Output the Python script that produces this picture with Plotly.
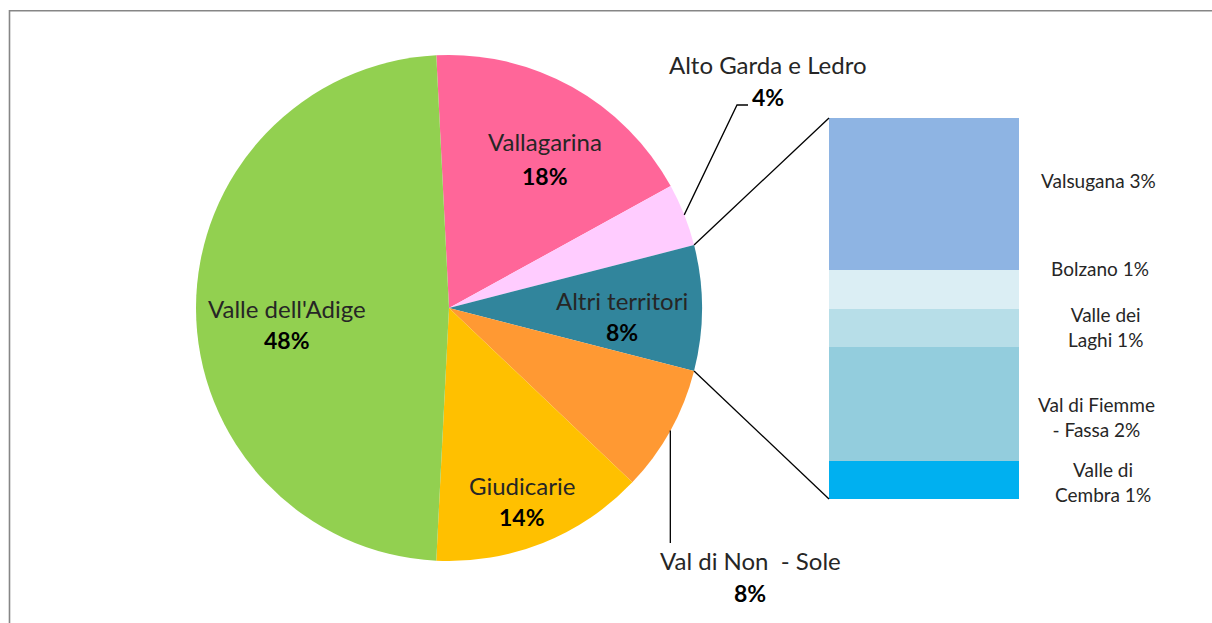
import math
import plotly.graph_objects as go

W, H = 1212, 623

# ---- data ----
pie_labels = ["Vallagarina", "Alto Garda e Ledro", "Altri territori",
              "Val di Non  - Sole", "Giudicarie", "Valle dell'Adige"]
pie_values = [17.8, 4.0, 8.0, 8.1, 13.7, 48.4]
pie_colors = ["#FF6699", "#FFCCFF", "#31859C", "#FF9933", "#FFC000", "#92D050"]

bar_labels = ["Valle di<br>Cembra", "Val di Fiemme<br>- Fassa", "Valle dei<br>Laghi",
              "Bolzano", "Valsugana"]
bar_values = [0.8, 2.4, 0.8, 0.8, 3.2]
bar_colors = ["#00B0F0", "#93CDDD", "#B7DEE8", "#DBEEF4", "#8EB4E3"]

FONT = "Lato"
TXT = "#262626"

# ---- layout geometry (pixels) ----
CX, CY, R = 449, 308, 253
BAR_X0, BAR_X1, BAR_Y0, BAR_Y1 = 829, 1019, 118, 499


def px(x):
    return x / W


def py(y):
    return 1 - y / H


total = sum(pie_values)
other_idx = 2
# pie-of-bar: "other" slice centred at 3 o'clock
before = sum(pie_values[:other_idx]) + pie_values[other_idx] / 2
rotation = 90 - before / total * 360


def edge(angle_deg, r=R):
    a = math.radians(angle_deg)
    return CX + r * math.sin(a), CY - r * math.cos(a)


starts = []
acc = rotation
for v in pie_values:
    starts.append(acc)
    acc += v / total * 360

fig = go.Figure()

fig.add_trace(go.Pie(
    labels=pie_labels, values=pie_values, sort=False, direction="clockwise",
    rotation=rotation, marker=dict(colors=pie_colors, line=dict(width=0)),
    textinfo="none", hoverinfo="skip", showlegend=False,
    domain=dict(x=[px(CX - R), px(CX + R)], y=[py(CY + R), py(CY - R)]),
))

for lab, v, c in zip(bar_labels, bar_values, bar_colors):
    fig.add_trace(go.Bar(
        x=[0], y=[v], width=1, marker=dict(color=c, line=dict(width=0)),
        hoverinfo="skip", showlegend=False, xaxis="x", yaxis="y",
    ))

fig.update_layout(
    barmode="stack",
    width=W, height=H, margin=dict(l=0, r=0, t=0, b=0),
    paper_bgcolor="white", plot_bgcolor="rgba(0,0,0,0)",
    xaxis=dict(domain=[px(BAR_X0), px(BAR_X1)], range=[-0.5, 0.5], visible=False, fixedrange=True),
    yaxis=dict(domain=[py(BAR_Y1), py(BAR_Y0)], range=[0, sum(bar_values)], visible=False, fixedrange=True),
)

shapes = []
# chart border (top and left visible)
shapes.append(dict(type="rect", xref="paper", yref="paper",
                   x0=px(9.5), x1=px(W + 20), y0=py(H + 20), y1=py(10.8),
                   line=dict(color="#868686", width=1.6)))
# connector lines from "other" slice edges to bar
a_top = starts[other_idx]
a_bot = starts[other_idx] + pie_values[other_idx] / total * 360
x1, y1 = edge(a_top)
x2, y2 = edge(a_bot)
shapes.append(dict(type="line", xref="paper", yref="paper",
                   x0=px(x1), y0=py(y1), x1=px(BAR_X0), y1=py(BAR_Y0),
                   line=dict(color="black", width=1.3)))
shapes.append(dict(type="line", xref="paper", yref="paper",
                   x0=px(x2), y0=py(y2), x1=px(BAR_X0), y1=py(BAR_Y1),
                   line=dict(color="black", width=1.3)))
# leader lines
mid_alto = starts[1] + pie_values[1] / total * 180
ax, ay = edge(mid_alto)
shapes.append(dict(type="path", xref="paper", yref="paper",
                   path=f"M {px(ax)} {py(ay)} L {px(737)} {py(105)} L {px(748)} {py(105)}",
                   line=dict(color="black", width=1.3)))
mid_non = starts[3] + pie_values[3] / total * 180
nx, ny = edge(mid_non)
shapes.append(dict(type="line", xref="paper", yref="paper",
                   x0=px(nx), y0=py(ny), x1=px(nx), y1=py(543),
                   line=dict(color="black", width=1.3)))

ann = []
NAME_SIZE = 24
PCT_SIZE = 23
pie_label_pos = [
    (545, 142, 176),   # Vallagarina
    (768, 64, 97),     # Alto Garda
    (622, 300, 332),   # Altri
    (750, 560, 593),   # Val di Non
    (522, 485, 517),   # Giudicarie
    (287, 308, 340),   # Adige
]
for lab, v, (x, yn, yp) in zip(pie_labels, pie_values, pie_label_pos):
    ann.append(dict(x=px(x), y=py(yn), xref="paper", yref="paper", showarrow=False,
                    text=lab, font=dict(family=FONT, size=NAME_SIZE, color=TXT),
                    xanchor="center", yanchor="middle"))
    ann.append(dict(x=px(x), y=py(yp), xref="paper", yref="paper", showarrow=False,
                    text=f"<b>{v:.0f}%</b>", font=dict(family=FONT, size=PCT_SIZE, color="black"),
                    xanchor="center", yanchor="middle"))

bar_label_pos = [(1103, 482), (1096, 417), (1105, 327), (1100, 268), (1098, 180)]
for lab, v, (x, y) in zip(bar_labels, bar_values, bar_label_pos):
    ann.append(dict(x=px(x), y=py(y), xref="paper", yref="paper", showarrow=False,
                    text=f"{lab} {v:.0f}%", align="center",
                    font=dict(family=FONT, size=19, color=TXT),
                    xanchor="center", yanchor="middle"))

fig.update_layout(shapes=shapes, annotations=ann)
fig.write_html("out.html", config={"displayModeBar": False},
               post_script="document.body.style.margin='0';document.body.style.overflow='hidden';")
